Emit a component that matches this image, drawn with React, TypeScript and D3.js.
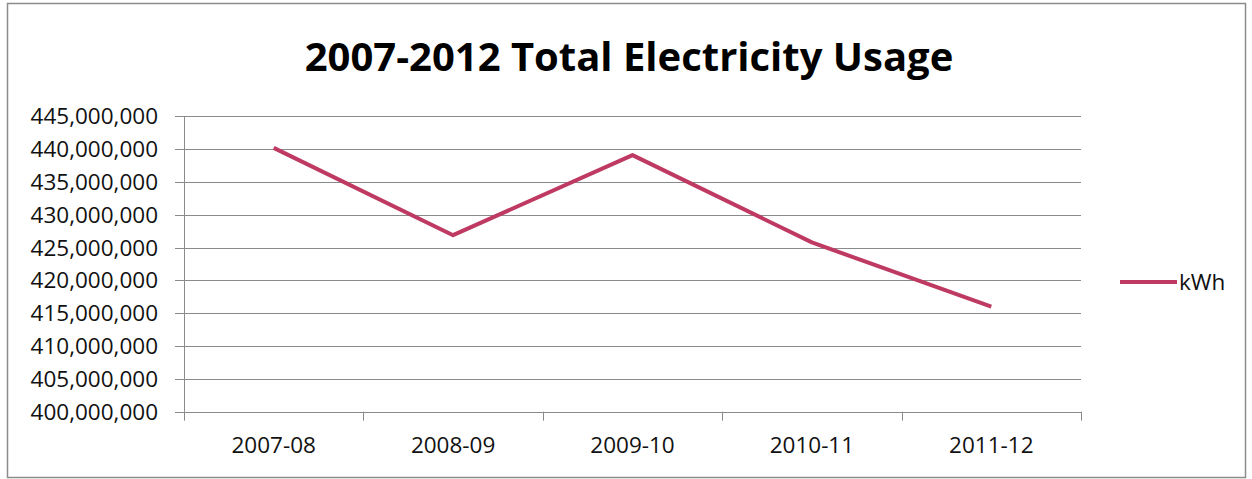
import React from "react";
import * as d3 from "d3";

// Fiscal years and total electricity usage (kWh)
const fiscalYears: string[] = ["2007-08", "2008-09", "2009-10", "2010-11", "2011-12"];
const usageKWh: number[] = [440200000, 426900000, 439100000, 425800000, 416000000];
const yTickValues: number[] = [400e6, 405e6, 410e6, 415e6, 420e6, 425e6, 430e6, 435e6, 440e6, 445e6];
const seriesName = "kWh";
const chartTitle = "2007-2012 Total Electricity Usage";

const W = 1252;
const H = 479;
const plot = { left: 184, right: 1081, top: 116.4, bottom: 411.7 };
const FONT = "'Open Sans', 'Noto Sans', sans-serif";
const LINE_COLOR = "#BE3A62";
const GRID = "#8a8a8a";

export default function App() {
  const x = d3.scaleBand<string>().domain(fiscalYears).range([plot.left, plot.right]).paddingInner(0).paddingOuter(0);
  const y = d3.scaleLinear().domain([400e6, 445e6]).range([plot.bottom, plot.top]);
  const fmt = d3.format(",");

  const line = d3
    .line<number>()
    .x((_, i) => (x(fiscalYears[i]) as number) + x.bandwidth() / 2)
    .y((d) => y(d));

  const boundaries = [...fiscalYears.map((c) => x(c) as number), plot.right];

  return (
    <svg
      width={W}
      height={H}
      viewBox={`0 0 ${W} ${H}`}
      style={{ position: "absolute", left: 0, top: 0, background: "#fff" }}
    >
      {/* chart frame */}
      <rect x={7.5} y={3.5} width={1238} height={474} fill="#fff" stroke="#8c8c8c" strokeWidth={1.5} />

      <text
        x={629}
        y={71}
        textAnchor="middle"
        fontFamily={FONT}
        fontWeight={700}
        fontSize={40}
        fill="#000"
      >
        {chartTitle}
      </text>

      {/* horizontal gridlines with left tick marks */}
      {yTickValues.map((v) => (
        <g key={v}>
          <line
            x1={plot.left - 9}
            x2={plot.right}
            y1={Math.round(y(v)) + 0.5}
            y2={Math.round(y(v)) + 0.5}
            stroke={GRID}
            strokeWidth={1}
          />
          <text
            x={158}
            y={y(v)}
            dy="0.35em"
            textAnchor="end"
            fontFamily={FONT}
            fontSize={22.5}
            fill="#111"
          >
            {fmt(v)}
          </text>
        </g>
      ))}

      {/* vertical axis */}
      <line x1={plot.left + 0.5} x2={plot.left + 0.5} y1={plot.top} y2={plot.bottom} stroke={GRID} strokeWidth={1} />

      {/* category boundary ticks */}
      {boundaries.map((bx, i) => (
        <line
          key={i}
          x1={Math.round(bx) + 0.5}
          x2={Math.round(bx) + 0.5}
          y1={plot.bottom}
          y2={plot.bottom + 9}
          stroke={GRID}
          strokeWidth={1}
        />
      ))}

      {fiscalYears.map((c) => (
        <text
          key={c}
          x={(x(c) as number) + x.bandwidth() / 2}
          y={453}
          textAnchor="middle"
          fontFamily={FONT}
          fontSize={22.5}
          fill="#111"
        >
          {c}
        </text>
      ))}

      <path d={line(usageKWh) || ""} fill="none" stroke={LINE_COLOR} strokeWidth={4} strokeLinejoin="round" />

      {/* legend */}
      <line x1={1120} x2={1177} y1={282} y2={282} stroke={LINE_COLOR} strokeWidth={4} />
      <text x={1179} y={290} fontFamily={FONT} fontSize={22.5} fill="#111">
        {seriesName}
      </text>
    </svg>
  );
}
